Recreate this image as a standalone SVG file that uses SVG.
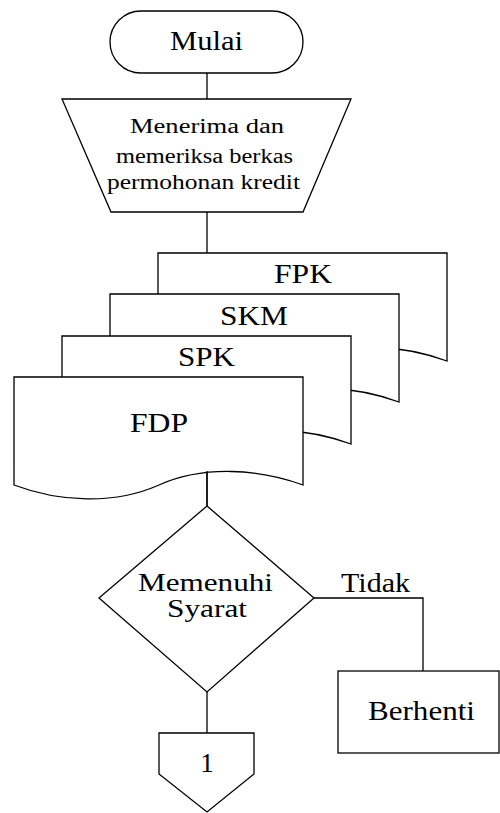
<svg xmlns="http://www.w3.org/2000/svg" width="500" height="813" viewBox="0 0 500 813">
  <style>
    .shape { fill: #ffffff; stroke: #000000; stroke-width: 1.3; }
    .wire { fill: none; stroke: #000000; stroke-width: 1.3; }
  </style>
  <defs>
    <!-- document symbol, top-left at origin, 289 wide -->
    <path id="doc" d="M0,0 H289 V108 C245,92 190,88 145,108 C100,128 45,125 0,108 Z"/>
  </defs>

  <rect x="0" y="0" width="500" height="813" fill="#ffffff"/>

  <g font-family="Liberation Serif" fill="#000000" text-anchor="middle">
    <g id="connectors">
      <line class="wire" x1="207" y1="73" x2="207" y2="99"/>
      <line class="wire" x1="207" y1="212" x2="207" y2="253"/>
      <line class="wire" x1="207" y1="471" x2="207" y2="506"/>
      <polyline class="wire" points="314,598 423,598 423,671"/>
      <line class="wire" x1="207" y1="692" x2="207" y2="733"/>
      <text font-family="Liberation Serif" font-size="27" x="375.5" y="592" textLength="69" lengthAdjust="spacingAndGlyphs">Tidak</text>
    </g>

    <g id="start">
      <rect class="shape" x="110" y="11" width="193" height="62" rx="31" ry="31"/>
      <text font-family="Liberation Serif" font-size="27" x="206.5" y="50" textLength="73" lengthAdjust="spacingAndGlyphs">Mulai</text>
    </g>

    <g id="receive">
      <polygon class="shape" points="62,99 351,99 303,212 111,212"/>
      <text font-family="Liberation Serif" font-size="20" x="207" y="133" textLength="154" lengthAdjust="spacingAndGlyphs">Menerima dan</text>
      <text font-family="Liberation Serif" font-size="20" x="204.5" y="163" textLength="177" lengthAdjust="spacingAndGlyphs">memeriksa berkas</text>
      <text font-family="Liberation Serif" font-size="20" x="203.5" y="189" textLength="193" lengthAdjust="spacingAndGlyphs">permohonan kredit</text>
    </g>

    <g id="doc-fpk">
      <use href="#doc" class="shape" transform="translate(158,253)"/>
      <text font-family="Liberation Serif" font-size="27" x="303" y="283" textLength="58" lengthAdjust="spacingAndGlyphs">FPK</text>
    </g>
    <g id="doc-skm">
      <use href="#doc" class="shape" transform="translate(110,294)"/>
      <text font-family="Liberation Serif" font-size="27" x="254" y="325" textLength="68" lengthAdjust="spacingAndGlyphs">SKM</text>
    </g>
    <g id="doc-spk">
      <use href="#doc" class="shape" transform="translate(62,336)"/>
      <text font-family="Liberation Serif" font-size="27" x="206.5" y="366" textLength="57" lengthAdjust="spacingAndGlyphs">SPK</text>
    </g>
    <g id="doc-fdp">
      <use href="#doc" class="shape" transform="translate(14,377)"/>
      <text font-family="Liberation Serif" font-size="27" x="159" y="432" textLength="58" lengthAdjust="spacingAndGlyphs">FDP</text>
    </g>
    <line class="wire" x1="207" y1="471" x2="207" y2="506"/>

    <g id="decision">
      <polygon class="shape" points="207,506 314,598 207,692 99,598"/>
      <text font-family="Liberation Serif" font-size="25" x="205.5" y="591" textLength="135" lengthAdjust="spacingAndGlyphs">Memenuhi</text>
      <text font-family="Liberation Serif" font-size="25" x="207" y="617" textLength="80" lengthAdjust="spacingAndGlyphs">Syarat</text>
    </g>

    <g id="stop">
      <rect class="shape" x="338" y="671" width="161" height="82"/>
      <text font-family="Liberation Serif" font-size="27" x="421.5" y="720" textLength="107" lengthAdjust="spacingAndGlyphs">Berhenti</text>
    </g>

    <g id="offpage-1">
      <polygon class="shape" points="159,733 254,733 254,774 207,812 159,774"/>
      <text font-family="Liberation Serif" font-size="27" x="207" y="772">1</text>
    </g>
  </g>
</svg>
